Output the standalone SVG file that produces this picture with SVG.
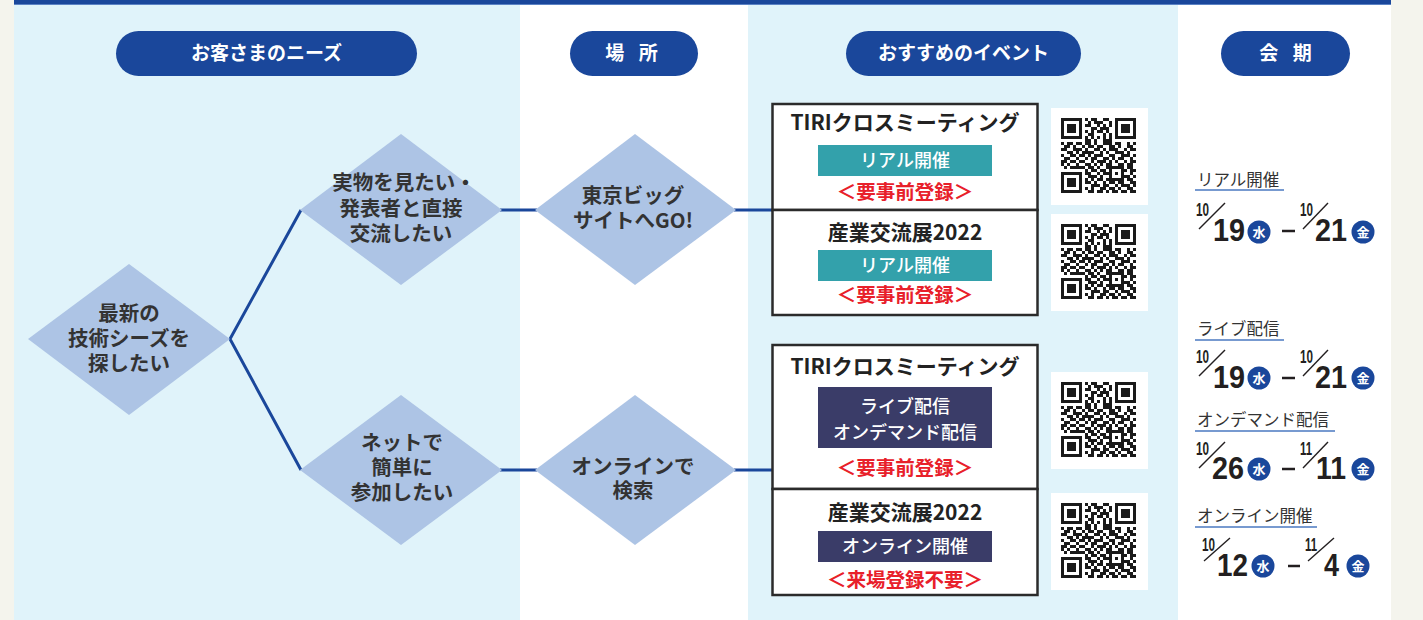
<svg xmlns="http://www.w3.org/2000/svg" xmlns:xlink="http://www.w3.org/1999/xlink" width="1423" height="620" viewBox="0 0 1423 620">
<style>
.jp{font-family:"Noto Sans CJK JP","Noto Sans CJK SC",sans-serif}
.pill{fill:#1a479b}
.pill-t{font-family:"Noto Sans CJK JP",sans-serif;font-weight:700;font-size:19px;fill:#fff;text-anchor:middle}
.dia{fill:#adc4e5}
.dia-t{font-family:"Noto Sans CJK JP",sans-serif;font-weight:700;font-size:20.5px;fill:#333;text-anchor:middle}
.conn{stroke:#1a479b;stroke-width:3;fill:none}
.box{fill:#fff;stroke:#2b2b2b;stroke-width:2.5}
.ev-title{font-family:"Noto Sans CJK JP",sans-serif;font-weight:700;font-size:21px;fill:#222;text-anchor:middle}
.teal{fill:#33a1ab}
.navy{fill:#3a3c68}
.tag-t{font-family:"Noto Sans CJK JP",sans-serif;font-weight:500;font-size:18px;fill:#fff;text-anchor:middle}
.red{font-family:"Noto Sans CJK JP",sans-serif;font-weight:700;font-size:19.5px;fill:#e8202a;text-anchor:middle}
.lbl{font-family:"Noto Sans CJK JP",sans-serif;font-weight:400;font-size:16.5px;fill:#333}
.uline{stroke:#4a78c0;stroke-width:1.6}
.dsm{font-family:"Liberation Sans",Arial,sans-serif;font-weight:700;font-size:17.5px;fill:#231f20}
.dbig{font-family:"Liberation Sans",Arial,sans-serif;font-weight:700;font-size:32px;fill:#231f20}
.slash{stroke:#231f20;stroke-width:1.4}
.dash{stroke:#231f20;stroke-width:2.5}
.day{fill:#1a479b}
.day-t{font-family:"Noto Sans CJK JP",sans-serif;font-weight:700;font-size:13px;fill:#fff;text-anchor:middle}
</style>
<defs>
<g id="qr">
<rect x="0" y="0" width="97" height="97" fill="#fff"/>
<path transform="translate(10,10) scale(3)" fill="#1a1a1a" shape-rendering="crispEdges" d="M0,0h7v1h-7zM8,0h1v1h-1zM10,0h2v1h-2zM14,0h2v1h-2zM18,0h7v1h-7zM0,1h1v1h-1zM6,1h1v1h-1zM9,1h1v1h-1zM11,1h3v1h-3zM16,1h1v1h-1zM18,1h1v1h-1zM24,1h1v1h-1zM0,2h1v1h-1zM2,2h3v1h-3zM6,2h1v1h-1zM8,2h2v1h-2zM12,2h1v1h-1zM14,2h1v1h-1zM16,2h1v1h-1zM18,2h1v1h-1zM20,2h3v1h-3zM24,2h1v1h-1zM0,3h1v1h-1zM2,3h3v1h-3zM6,3h1v1h-1zM10,3h2v1h-2zM13,3h3v1h-3zM18,3h1v1h-1zM20,3h3v1h-3zM24,3h1v1h-1zM0,4h1v1h-1zM2,4h3v1h-3zM6,4h1v1h-1zM8,4h1v1h-1zM10,4h1v1h-1zM12,4h2v1h-2zM15,4h1v1h-1zM18,4h1v1h-1zM20,4h3v1h-3zM24,4h1v1h-1zM0,5h1v1h-1zM6,5h1v1h-1zM9,5h2v1h-2zM14,5h1v1h-1zM16,5h1v1h-1zM18,5h1v1h-1zM24,5h1v1h-1zM0,6h7v1h-7zM8,6h1v1h-1zM10,6h1v1h-1zM12,6h1v1h-1zM14,6h1v1h-1zM16,6h1v1h-1zM18,6h7v1h-7zM8,7h2v1h-2zM11,7h1v1h-1zM14,7h3v1h-3zM0,8h1v1h-1zM2,8h2v1h-2zM5,8h2v1h-2zM8,8h2v1h-2zM11,8h1v1h-1zM14,8h3v1h-3zM18,8h2v1h-2zM22,8h1v1h-1zM24,8h1v1h-1zM1,9h2v1h-2zM4,9h1v1h-1zM7,9h1v1h-1zM9,9h2v1h-2zM12,9h2v1h-2zM16,9h2v1h-2zM19,9h1v1h-1zM22,9h2v1h-2zM0,10h2v1h-2zM4,10h3v1h-3zM8,10h1v1h-1zM11,10h2v1h-2zM14,10h1v1h-1zM16,10h3v1h-3zM21,10h1v1h-1zM23,10h2v1h-2zM2,11h2v1h-2zM5,11h1v1h-1zM7,11h4v1h-4zM13,11h1v1h-1zM15,11h1v1h-1zM18,11h3v1h-3zM22,11h1v1h-1zM0,12h1v1h-1zM3,12h2v1h-2zM6,12h2v1h-2zM9,12h1v1h-1zM11,12h3v1h-3zM16,12h2v1h-2zM20,12h3v1h-3zM24,12h1v1h-1zM1,13h2v1h-2zM5,13h1v1h-1zM8,13h1v1h-1zM10,13h2v1h-2zM14,13h2v1h-2zM17,13h1v1h-1zM19,13h2v1h-2zM23,13h1v1h-1zM0,14h2v1h-2zM3,14h2v1h-2zM6,14h2v1h-2zM10,14h1v1h-1zM12,14h3v1h-3zM16,14h1v1h-1zM18,14h1v1h-1zM21,14h1v1h-1zM23,14h2v1h-2zM0,15h1v1h-1zM2,15h1v1h-1zM5,15h1v1h-1zM8,15h2v1h-2zM11,15h1v1h-1zM13,15h1v1h-1zM15,15h2v1h-2zM19,15h2v1h-2zM22,15h2v1h-2zM1,16h1v1h-1zM3,16h5v1h-5zM9,16h2v1h-2zM12,16h1v1h-1zM15,16h6v1h-6zM22,16h2v1h-2zM8,17h1v1h-1zM10,17h2v1h-2zM13,17h2v1h-2zM16,17h1v1h-1zM20,17h2v1h-2zM23,17h2v1h-2zM0,18h7v1h-7zM8,18h2v1h-2zM12,18h1v1h-1zM14,18h3v1h-3zM18,18h1v1h-1zM20,18h1v1h-1zM23,18h1v1h-1zM0,19h1v1h-1zM6,19h1v1h-1zM9,19h3v1h-3zM13,19h1v1h-1zM16,19h1v1h-1zM20,19h3v1h-3zM24,19h1v1h-1zM0,20h1v1h-1zM2,20h3v1h-3zM6,20h1v1h-1zM8,20h1v1h-1zM10,20h1v1h-1zM12,20h2v1h-2zM15,20h6v1h-6zM22,20h2v1h-2zM0,21h1v1h-1zM2,21h3v1h-3zM6,21h1v1h-1zM8,21h2v1h-2zM11,21h1v1h-1zM14,21h1v1h-1zM16,21h2v1h-2zM19,21h2v1h-2zM23,21h2v1h-2zM0,22h1v1h-1zM2,22h3v1h-3zM6,22h1v1h-1zM10,22h3v1h-3zM14,22h2v1h-2zM18,22h1v1h-1zM20,22h3v1h-3zM24,22h1v1h-1zM0,23h1v1h-1zM6,23h1v1h-1zM8,23h1v1h-1zM10,23h1v1h-1zM13,23h2v1h-2zM16,23h2v1h-2zM19,23h1v1h-1zM22,23h2v1h-2zM0,24h7v1h-7zM9,24h2v1h-2zM12,24h2v1h-2zM15,24h1v1h-1zM17,24h2v1h-2zM20,24h2v1h-2zM23,24h2v1h-2z"/>
</g>
</defs>

<g id="background">
<rect x="0" y="0" width="1423" height="620" fill="#f4f4ed"/>
<rect x="14" y="0" width="506" height="620" fill="#e0f3fa"/>
<rect x="520" y="0" width="228" height="620" fill="#ffffff"/>
<rect x="748" y="0" width="430" height="620" fill="#e0f3fa"/>
<rect x="1178" y="0" width="213" height="620" fill="#ffffff"/>
<rect x="14" y="0" width="1377" height="4" fill="#1a479b"/>
<rect x="14" y="4" width="1377" height="1" fill="#5b82c4"/>
</g>

<g id="headers">
<g id="h-needs"><rect class="pill" x="116" y="31" width="301" height="45" rx="22.5"/><text class="pill-t" x="266.5" y="60">お客さまのニーズ</text></g>
<g id="h-place"><rect class="pill" x="570" y="31" width="128" height="45" rx="22.5"/><text class="pill-t" x="634" y="60" letter-spacing="5">場 所</text></g>
<g id="h-event"><rect class="pill" x="846" y="31" width="235" height="45" rx="22.5"/><text class="pill-t" x="963.5" y="60">おすすめのイベント</text></g>
<g id="h-period"><rect class="pill" x="1221" y="31" width="129" height="45" rx="22.5"/><text class="pill-t" x="1288" y="60" letter-spacing="5">会 期</text></g>
</g>

<g id="connectors">
<polyline class="conn" points="301,210 230,339 301,470"/>
<line class="conn" x1="500" y1="210" x2="537" y2="210"/>
<line class="conn" x1="734" y1="210" x2="773" y2="210"/>
<line class="conn" x1="500" y1="470" x2="537" y2="470"/>
<line class="conn" x1="734" y1="470" x2="773" y2="470"/>
</g>

<g id="n-need-main">
<polygon class="dia" points="28,339 129,264 230,339 129,415"/>
<text class="dia-t" x="129" y="320.5">最新の</text>
<text class="dia-t" x="129" y="346">技術シーズを</text>
<text class="dia-t" x="129" y="371">探したい</text>
</g>
<g id="n-need-real">
<polygon class="dia" points="300,210 401,134 502,210 401,285"/>
<text class="dia-t" x="404" y="190">実物を見たい・</text>
<text class="dia-t" x="401" y="216">発表者と直接</text>
<text class="dia-t" x="401" y="241">交流したい</text>
</g>
<g id="n-need-net">
<polygon class="dia" points="300,470 401,395 502,470 401,545"/>
<text class="dia-t" x="402" y="450">ネットで</text>
<text class="dia-t" x="402" y="475">簡単に</text>
<text class="dia-t" x="402" y="500">参加したい</text>
</g>
<g id="n-place-bigsight">
<polygon class="dia" points="535,210 635,134 736,210 635,285"/>
<text class="dia-t" x="633" y="203">東京ビッグ</text>
<text class="dia-t" x="633" y="228">サイトへGO!</text>
</g>
<g id="n-place-online">
<polygon class="dia" points="535,470 635,395 736,470 635,545"/>
<text class="dia-t" x="633" y="474">オンラインで</text>
<text class="dia-t" x="633" y="498">検索</text>
</g>

<g id="n-event-real">
<rect class="box" x="772.5" y="104" width="265" height="106"/>
<rect class="box" x="772.5" y="210" width="265" height="105"/>
<text class="ev-title" x="905" y="130">TIRIクロスミーティング</text>
<rect class="teal" x="818" y="145" width="174" height="31"/>
<text class="tag-t" x="905" y="167">リアル開催</text>
<text class="red" x="905" y="199">＜要事前登録＞</text>
<text class="ev-title" x="905" y="240">産業交流展2022</text>
<rect class="teal" x="818" y="250" width="174" height="31"/>
<text class="tag-t" x="905" y="272">リアル開催</text>
<text class="red" x="905" y="302">＜要事前登録＞</text>
</g>

<g id="n-event-online">
<rect class="box" x="772.5" y="345" width="265" height="144"/>
<rect class="box" x="772.5" y="489" width="265" height="106"/>
<text class="ev-title" x="905" y="374">TIRIクロスミーティング</text>
<rect class="navy" x="818" y="387" width="174" height="61"/>
<text class="tag-t" x="905" y="413">ライブ配信</text>
<text class="tag-t" x="905" y="439">オンデマンド配信</text>
<text class="red" x="905" y="475">＜要事前登録＞</text>
<text class="ev-title" x="905" y="520">産業交流展2022</text>
<rect class="navy" x="818" y="531" width="174" height="31"/>
<text class="tag-t" x="905" y="553">オンライン開催</text>
<text class="red" x="905" y="587">＜来場登録不要＞</text>
</g>

<g id="qrcodes">
<use xlink:href="#qr" href="#qr" x="1051" y="108"/>
<use xlink:href="#qr" href="#qr" x="1051" y="214"/>
<use xlink:href="#qr" href="#qr" x="1051" y="372"/>
<use xlink:href="#qr" href="#qr" x="1051" y="493"/>
</g>

<g id="period-real">
<text class="lbl" x="1197" y="186">リアル開催</text>
<line class="uline" x1="1195" y1="190" x2="1284" y2="190"/>
<text class="dsm" x="1196" y="216" textLength="13" lengthAdjust="spacingAndGlyphs">10</text>
<line class="slash" x1="1199" y1="229" x2="1225" y2="203"/>
<text class="dbig" x="1213" y="241" textLength="32" lengthAdjust="spacingAndGlyphs">19</text>
<circle class="day" cx="1259" cy="232" r="11.5"/><text class="day-t" x="1259" y="236.5">水</text>
<line class="dash" x1="1282" y1="231" x2="1295" y2="231"/>
<text class="dsm" x="1300" y="216" textLength="13" lengthAdjust="spacingAndGlyphs">10</text>
<line class="slash" x1="1303" y1="229" x2="1328" y2="203"/>
<text class="dbig" x="1315" y="241" textLength="32" lengthAdjust="spacingAndGlyphs">21</text>
<circle class="day" cx="1363" cy="232" r="11.5"/><text class="day-t" x="1363" y="236.5">金</text>
</g>

<g id="period-live">
<text class="lbl" x="1197" y="335">ライブ配信</text>
<line class="uline" x1="1195" y1="340" x2="1284" y2="340"/>
<text class="dsm" x="1196" y="363" textLength="13" lengthAdjust="spacingAndGlyphs">10</text>
<line class="slash" x1="1199" y1="376" x2="1225" y2="350"/>
<text class="dbig" x="1213" y="388" textLength="32" lengthAdjust="spacingAndGlyphs">19</text>
<circle class="day" cx="1259" cy="378" r="11.5"/><text class="day-t" x="1259" y="382.5">水</text>
<line class="dash" x1="1282" y1="378" x2="1295" y2="378"/>
<text class="dsm" x="1300" y="363" textLength="13" lengthAdjust="spacingAndGlyphs">10</text>
<line class="slash" x1="1303" y1="376" x2="1328" y2="350"/>
<text class="dbig" x="1315" y="388" textLength="32" lengthAdjust="spacingAndGlyphs">21</text>
<circle class="day" cx="1363" cy="378" r="11.5"/><text class="day-t" x="1363" y="382.5">金</text>
</g>

<g id="period-ondemand">
<text class="lbl" x="1197" y="426">オンデマンド配信</text>
<line class="uline" x1="1195" y1="431" x2="1335" y2="431"/>
<text class="dsm" x="1196" y="455" textLength="13" lengthAdjust="spacingAndGlyphs">10</text>
<line class="slash" x1="1199" y1="468" x2="1225" y2="442"/>
<text class="dbig" x="1212" y="479" textLength="32" lengthAdjust="spacingAndGlyphs">26</text>
<circle class="day" cx="1259" cy="469" r="11.5"/><text class="day-t" x="1259" y="473.5">水</text>
<line class="dash" x1="1282" y1="469" x2="1295" y2="469"/>
<text class="dsm" x="1300" y="455" textLength="12" lengthAdjust="spacingAndGlyphs">11</text>
<line class="slash" x1="1303" y1="468" x2="1328" y2="442"/>
<text class="dbig" x="1316" y="479" textLength="30" lengthAdjust="spacingAndGlyphs">11</text>
<circle class="day" cx="1363" cy="469" r="11.5"/><text class="day-t" x="1363" y="473.5">金</text>
</g>

<g id="period-online">
<text class="lbl" x="1197" y="522">オンライン開催</text>
<line class="uline" x1="1195" y1="527" x2="1317" y2="527"/>
<text class="dsm" x="1202" y="551" textLength="13" lengthAdjust="spacingAndGlyphs">10</text>
<line class="slash" x1="1204" y1="561" x2="1230" y2="538"/>
<text class="dbig" x="1217" y="576" textLength="31" lengthAdjust="spacingAndGlyphs">12</text>
<circle class="day" cx="1263" cy="566" r="11.5"/><text class="day-t" x="1263" y="570.5">水</text>
<line class="dash" x1="1288" y1="566" x2="1300" y2="566"/>
<text class="dsm" x="1305" y="551" textLength="12" lengthAdjust="spacingAndGlyphs">11</text>
<line class="slash" x1="1308" y1="561" x2="1334" y2="538"/>
<text class="dbig" x="1324" y="576" textLength="15" lengthAdjust="spacingAndGlyphs">4</text>
<circle class="day" cx="1358" cy="566" r="11.5"/><text class="day-t" x="1358" y="570.5">金</text>
</g>
</svg>
